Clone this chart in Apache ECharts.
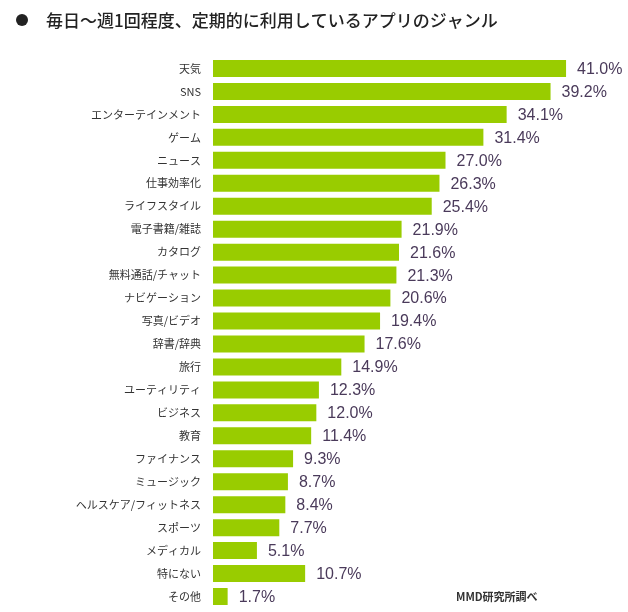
<!DOCTYPE html>
<html>
<head>
<meta charset="utf-8">
<style>
  html, body { margin: 0; padding: 0; background: #fff; }
  #main { width: 628px; height: 612px; }
</style>
<script src="https://cdn.jsdelivr.net/npm/echarts@6/dist/echarts.min.js"></script>
</head>
<body>
<div id="main"></div>
<script>
const categories = ['天気', 'SNS', 'エンターテインメント', 'ゲーム', 'ニュース', '仕事効率化', 'ライフスタイル', '電子書籍/雑誌', 'カタログ', '無料通話/チャット', 'ナビゲーション', '写真/ビデオ', '辞書/辞典', '旅行', 'ユーティリティ', 'ビジネス', '教育', 'ファイナンス', 'ミュージック', 'ヘルスケア/フィットネス', 'スポーツ', 'メディカル', '特にない', 'その他'];
const values = [41.0, 39.2, 34.1, 31.4, 27.0, 26.3, 25.4, 21.9, 21.6, 21.3, 20.6, 19.4, 17.6, 14.9, 12.3, 12.0, 11.4, 9.3, 8.7, 8.4, 7.7, 5.1, 10.7, 1.7];
const titleText = '毎日〜週1回程度、定期的に利用しているアプリのジャンル';
const sourceText = 'MMD研究所調べ';

const font = '"Noto Sans CJK JP", sans-serif';
const myChart = echarts.init(document.getElementById('main'), null, { renderer: 'canvas' });

myChart.setOption({
  animation: false,
  backgroundColor: '#fff',
  title: {
    text: titleText,
    left: 41,
    top: 7,
    textStyle: { fontFamily: font, fontSize: 17, fontWeight: 500, color: '#222' }
  },
  grid: { left: 213, top: 57, width: 387.5, height: 551 },
  xAxis: { type: 'value', min: 0, max: 45, show: false },
  yAxis: {
    type: 'category',
    inverse: true,
    data: categories,
    axisLine: { show: false },
    axisTick: { show: false },
    axisLabel: { fontFamily: font, fontSize: 11, color: '#333', margin: 12 }
  },
  series: [{
    type: 'bar',
    data: values,
    barWidth: 17,
    itemStyle: { color: '#99cc00' },
    label: {
      show: true,
      position: 'right',
      distance: 11,
      offset: [0, 1],
      fontFamily: '"Liberation Sans", Arial, sans-serif',
      fontSize: 16,
      color: '#4a3a5a',
      formatter: p => p.value.toFixed(1) + '%'
    }
  }],
  graphic: [
    { type: 'circle', shape: { cx: 22, cy: 20, r: 6 }, style: { fill: '#222' } },
    {
      type: 'text', left: 456, top: 591,
      style: { text: sourceText, fontFamily: font, fontSize: 11, fontWeight: 'bold', fill: '#333' }
    }
  ]
});
</script>
</body>
</html>
